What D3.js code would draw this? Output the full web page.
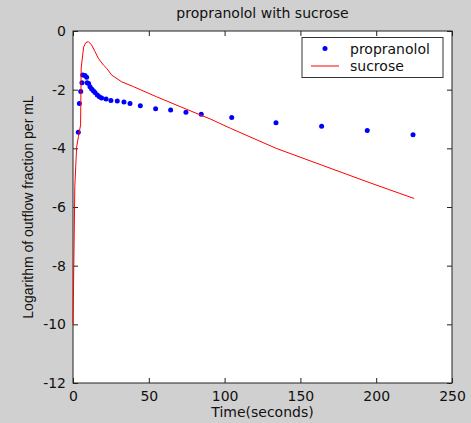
<!DOCTYPE html>
<html>
  <head>
    <meta charset="utf-8">
    <title>propranolol with sucrose</title>
    <script src="https://d3js.org/d3.v7.min.js"></script>
    <style>
      body { margin: 0; background: #d0d0d0; }
      text { font-family: "DejaVu Sans", sans-serif; font-size: 14px; fill: #111; }
    </style>
  </head>
  <body>
    <script>
    var w = 471;
    var h = 423;

    // propranolol samples (dots)
    var propTime = [3.5, 4.2, 5.1, 5.9, 6.4, 7.9, 9.0, 9.3, 10.3, 11.2, 12.3, 13.4, 14.5, 16, 17.4,
                    18.9, 21.8, 25, 29.2, 33.6, 37.6, 44.4, 54.5, 64.4, 74.5, 84.6, 104.7, 133.9,
                    164, 194.1, 224.3];
    var propLog = [-3.45, -2.47, -2.06, -1.76, -1.50, -1.52, -1.58, -1.76, -1.79, -1.90, -1.98, -2.04,
                   -2.10, -2.18, -2.24, -2.28, -2.32, -2.37, -2.39, -2.42, -2.47, -2.55, -2.65, -2.69,
                   -2.77, -2.84, -2.95, -3.13, -3.25, -3.39, -3.54];

    // sucrose curve (line)
    var sucTime = [0, 0.5, 1.2, 2.4, 3.6, 5.0, 5.4, 6.4, 7.0, 8.4, 10.1, 12.3, 14.5, 16.7, 20, 22.2, 25.5,
                   32, 40, 55, 75, 91, 104, 134, 164, 194, 225];
    var sucLog = [-10, -8.1, -5.3, -3.95, -3.6, -3.2, -1.26, -0.82, -0.55, -0.40, -0.36, -0.48, -0.70, -0.93,
                  -1.16, -1.27, -1.5, -1.73, -1.9, -2.24, -2.67, -3.01, -3.32, -4.0, -4.57, -5.14, -5.71];

    var xTicks = [0, 50, 100, 150, 200, 250];
    var yTicks = [0, -2, -4, -6, -8, -10, -12];

    var pLeft = 73, pRight = 452, pTop = 31, pBottom = 383;

    var x = d3.scaleLinear().domain([0, 250]).range([pLeft, pRight]);
    var y = d3.scaleLinear().domain([-12, 0]).range([pBottom, pTop]);

    var svg = d3.select("body").append("svg")
      .attr("width", w).attr("height", h);

    svg.append("rect")
      .attr("x", pLeft).attr("y", pTop)
      .attr("width", pRight - pLeft).attr("height", pBottom - pTop)
      .attr("fill", "#ffffff");

    // axes with inward ticks, MATLAB style box
    var axStyle = function(g){
      g.select(".domain").remove();
      g.selectAll("line").attr("stroke", "#222");
      g.selectAll("text").style("font-family", "DejaVu Sans, sans-serif").style("font-size", "14px").attr("fill", "#222");
    };

    svg.append("g").attr("transform", "translate(0," + pBottom + ")")
      .call(d3.axisBottom(x).tickValues(xTicks).tickSizeInner(-5).tickSizeOuter(0).tickPadding(8))
      .call(axStyle);
    svg.append("g").attr("transform", "translate(0," + pTop + ")")
      .call(d3.axisTop(x).tickValues(xTicks).tickSizeInner(-5).tickSizeOuter(0).tickFormat(""))
      .call(axStyle);
    svg.append("g").attr("transform", "translate(" + pLeft + ",0)")
      .call(d3.axisLeft(y).tickValues(yTicks).tickSizeInner(-5).tickSizeOuter(0).tickPadding(7)
        .tickFormat(function(d){ return d < 0 ? "-" + (-d) : d; }))
      .call(axStyle);
    svg.append("g").attr("transform", "translate(" + pRight + ",0)")
      .call(d3.axisRight(y).tickValues(yTicks).tickSizeInner(-5).tickSizeOuter(0).tickFormat(""))
      .call(axStyle);

    svg.append("rect")
      .attr("x", pLeft).attr("y", pTop)
      .attr("width", pRight - pLeft).attr("height", pBottom - pTop)
      .attr("fill", "none").attr("stroke", "#222").attr("stroke-width", 1);

    // data
    var propData = propTime.map(function(t, i){ return {t: t, v: propLog[i]}; });
    var sucData = sucTime.map(function(t, i){ return {t: t, v: sucLog[i]}; });

    svg.append("g").selectAll("circle")
      .data(propData)
      .enter()
      .append("circle")
      .attr("cx", function(d){ return x(d.t); })
      .attr("cy", function(d){ return y(d.v); })
      .attr("r", 2.5)
      .attr("fill", "#0000ff");

    svg.append("path")
      .datum(sucData)
      .attr("fill", "none")
      .attr("stroke", "#ff0000")
      .attr("stroke-width", 1)
      .attr("d", d3.line().x(function(d){ return x(d.t); }).y(function(d){ return y(d.v); }));

    // legend
    var lg = svg.append("g");
    lg.append("rect")
      .attr("x", 302).attr("y", 37.5).attr("width", 141).attr("height", 40)
      .attr("fill", "#ffffff").attr("stroke", "#333");
    lg.append("circle").attr("cx", 325).attr("cy", 48.5).attr("r", 2.5).attr("fill", "#0000ff");
    lg.append("line").attr("x1", 311).attr("x2", 339).attr("y1", 66).attr("y2", 66)
      .attr("stroke", "#ff0000");
    lg.append("text").attr("x", 350).attr("y", 53.5).text("propranolol");
    lg.append("text").attr("x", 350).attr("y", 70.5).text("sucrose");

    // labels
    svg.append("text")
      .attr("x", (pLeft + pRight) / 2).attr("y", 18)
      .attr("text-anchor", "middle")
      .text("propranolol with sucrose");

    svg.append("text")
      .attr("x", (pLeft + pRight) / 2).attr("y", 417)
      .attr("text-anchor", "middle")
      .text("Time(seconds)");

    svg.append("text")
      .attr("transform", "translate(33," + ((pTop + pBottom) / 2) + ") rotate(-90)")
      .attr("text-anchor", "middle")
      .style("font-family", "Liberation Sans, Arial, sans-serif")
      .text("Logarithm of outflow fraction per mL");
    </script>
  </body>
</html>
